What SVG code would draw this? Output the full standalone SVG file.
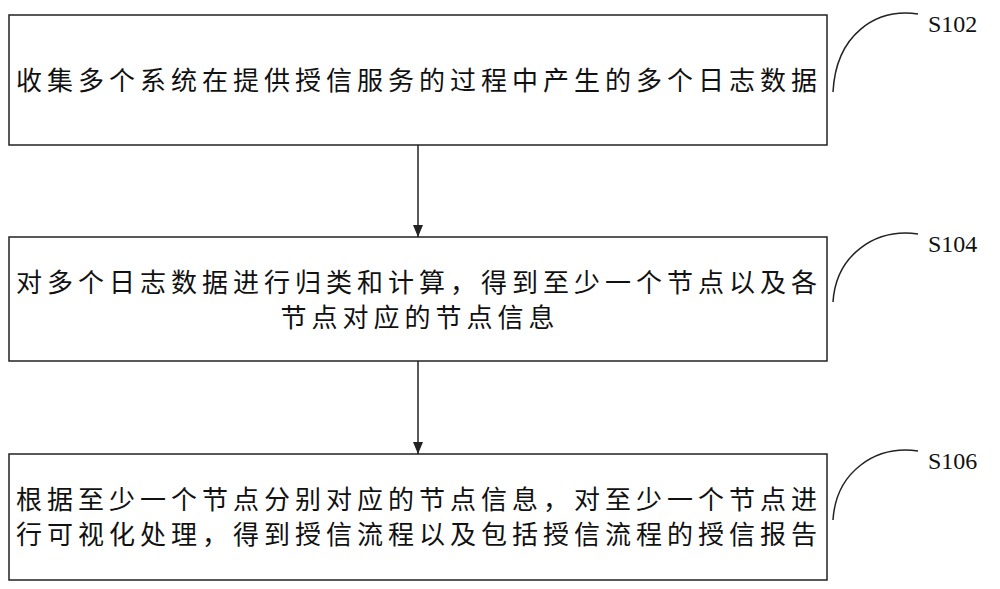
<svg xmlns="http://www.w3.org/2000/svg" width="1000" height="589" viewBox="0 0 1000 589">
<style>
.b{fill:#fff;stroke:#222;stroke-width:1.5}
.t{font-family:"Noto Sans CJK SC","Noto Sans CJK JP",sans-serif;font-size:26px;letter-spacing:5px;fill:#111}
.l{font-family:"Liberation Serif",serif;font-size:24px;fill:#111}
.c{fill:none;stroke:#222;stroke-width:1.5}
</style>
<defs><marker id="a" markerWidth="12" markerHeight="10" refX="12" refY="5" orient="auto" markerUnits="userSpaceOnUse"><path d="M0,0 L12,5 L0,10 Z" fill="#222"/></marker></defs>
<rect width="1000" height="589" fill="#fff"/>
<g id="n1"><rect class="b" x="9" y="15" width="818" height="130"/><text class="t" x="16" y="90">收集多个系统在提供授信服务的过程中产生的多个日志数据</text></g>
<g id="n2"><rect class="b" x="9" y="237" width="818" height="124"/><text class="t" x="16" y="292">对多个日志数据进行归类和计算，得到至少一个节点以及各</text><text class="t" x="420" y="327" text-anchor="middle">节点对应的节点信息</text></g>
<g id="n3"><rect class="b" x="9" y="454" width="818" height="126"/><text class="t" x="16" y="509">根据至少一个节点分别对应的节点信息，对至少一个节点进</text><text class="t" x="16" y="544">行可视化处理，得到授信流程以及包括授信流程的授信报告</text></g>
<g id="labels">
<path class="c" d="M833,92 C836,35 875,8 918,14"/><text class="l" x="928" y="32">S102</text>
<path class="c" d="M833,302 C836,255 875,228 918,234"/><text class="l" x="928" y="252">S104</text>
<path class="c" d="M833,520 C836,472 875,445 918,451"/><text class="l" x="928" y="469">S106</text>
</g>
<g id="connectors">
<line class="c" x1="418" y1="145" x2="418" y2="237" marker-end="url(#a)"/>
<line class="c" x1="418" y1="361" x2="418" y2="454" marker-end="url(#a)"/>
</g>
</svg>
